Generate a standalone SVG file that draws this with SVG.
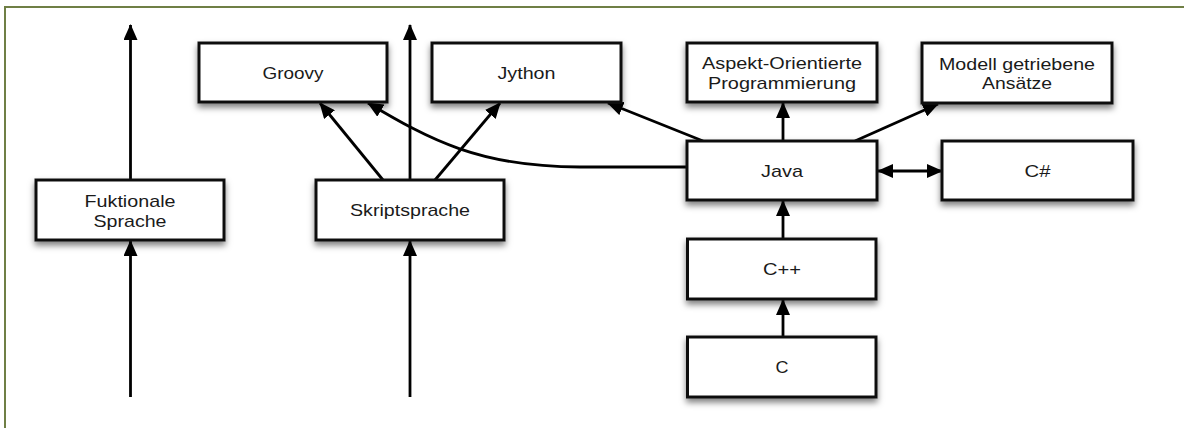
<svg xmlns="http://www.w3.org/2000/svg" width="1184" height="428" viewBox="0 0 1184 428">
  <defs>
    <filter id="shadow" x="-10%" y="-20%" width="120%" height="150%">
      <feDropShadow dx="0" dy="4" stdDeviation="3" flood-color="#000" flood-opacity="0.5"/>
    </filter>
    <marker id="arrow" viewBox="0 0 16 14" refX="15" refY="7" markerWidth="16" markerHeight="14" markerUnits="userSpaceOnUse" orient="auto-start-reverse">
      <path d="M0,0 L16,7 L0,14 z" fill="#000"/>
    </marker>
    <style>
      .box { fill: #fff; stroke: #111; stroke-width: 3; filter: url(#shadow); }
      .lbl { font-family: "Liberation Sans", Arial, sans-serif; font-size: 17px; fill: #1a1a1a; text-anchor: middle; }
      .edge { fill: none; stroke: #000; stroke-width: 2.8; marker-end: url(#arrow); }
      .frame { fill: none; stroke: #6f7f45; stroke-width: 2; }
    </style>
  </defs>

  <rect width="1184" height="428" fill="#fff"/>
  <path class="frame" d="M5,440 L5,7 L1190,7"/>

  <g id="connectors">
    <line class="edge" x1="130.5" y1="180" x2="130.5" y2="25"/>
    <line class="edge" x1="130.5" y1="397" x2="130.5" y2="241"/>
    <line class="edge" x1="410" y1="180" x2="410" y2="25"/>
    <line class="edge" x1="410" y1="397" x2="410" y2="241"/>
    <line class="edge" x1="383" y1="180" x2="320" y2="103"/>
    <line class="edge" x1="435" y1="180" x2="500" y2="103"/>
    <path class="edge" d="M689,167 L580,167 C480,167 430,140 368,103"/>
    <line class="edge" x1="703" y1="141" x2="608" y2="103"/>
    <line class="edge" x1="783" y1="141" x2="783" y2="103"/>
    <line class="edge" x1="855" y1="141" x2="938" y2="104"/>
    <line class="edge" x1="783" y1="239" x2="783" y2="201"/>
    <line class="edge" x1="783" y1="337" x2="783" y2="300"/>
    <line class="edge" x1="878" y1="171" x2="942" y2="171" marker-start="url(#arrow)"/>
  </g>

  <g id="fuktionale">
    <rect class="box" x="36" y="180" width="188" height="60"/>
    <text class="lbl" x="130" y="207" textLength="91" lengthAdjust="spacingAndGlyphs">Fuktionale</text>
    <text class="lbl" x="130" y="227" textLength="73" lengthAdjust="spacingAndGlyphs">Sprache</text>
  </g>
  <g id="skriptsprache">
    <rect class="box" x="316" y="180" width="188" height="60"/>
    <text class="lbl" x="410" y="216" textLength="120" lengthAdjust="spacingAndGlyphs">Skriptsprache</text>
  </g>
  <g id="groovy">
    <rect class="box" x="199" y="43" width="188" height="59"/>
    <text class="lbl" x="293" y="79" textLength="61" lengthAdjust="spacingAndGlyphs">Groovy</text>
  </g>
  <g id="jython">
    <rect class="box" x="432" y="43" width="189" height="59"/>
    <text class="lbl" x="526.5" y="79" textLength="58" lengthAdjust="spacingAndGlyphs">Jython</text>
  </g>
  <g id="aop">
    <rect class="box" x="687" y="43" width="190" height="59"/>
    <text class="lbl" x="782" y="69" textLength="160" lengthAdjust="spacingAndGlyphs">Aspekt-Orientierte</text>
    <text class="lbl" x="782" y="89" textLength="148" lengthAdjust="spacingAndGlyphs">Programmierung</text>
  </g>
  <g id="modell">
    <rect class="box" x="922" y="43" width="190" height="60"/>
    <text class="lbl" x="1017" y="70" textLength="156" lengthAdjust="spacingAndGlyphs">Modell getriebene</text>
    <text class="lbl" x="1017" y="89" textLength="70" lengthAdjust="spacingAndGlyphs">Ansätze</text>
  </g>
  <g id="java">
    <rect class="box" x="687" y="141" width="190" height="59"/>
    <text class="lbl" x="782" y="177" textLength="42" lengthAdjust="spacingAndGlyphs">Java</text>
  </g>
  <g id="csharp">
    <rect class="box" x="942" y="141" width="191" height="59"/>
    <text class="lbl" x="1037.5" y="177" textLength="26" lengthAdjust="spacingAndGlyphs">C#</text>
  </g>
  <g id="cpp">
    <rect class="box" x="687.5" y="239" width="188.5" height="60"/>
    <text class="lbl" x="782" y="275" textLength="38" lengthAdjust="spacingAndGlyphs">C++</text>
  </g>
  <g id="c">
    <rect class="box" x="687.5" y="337" width="188.5" height="60"/>
    <text class="lbl" x="782" y="373" textLength="13" lengthAdjust="spacingAndGlyphs">C</text>
  </g>
</svg>
